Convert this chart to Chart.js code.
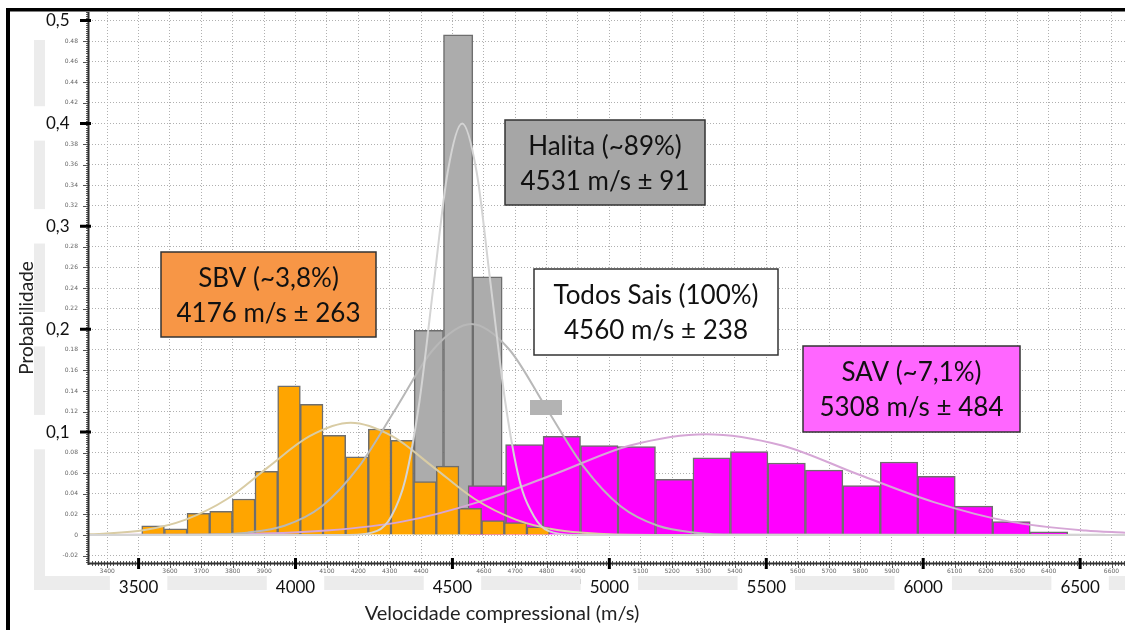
<!DOCTYPE html>
<html>
<head>
<meta charset="utf-8">
<script src="https://cdn.jsdelivr.net/npm/chart.js@4/dist/chart.umd.min.js"></script>
<style>
  html, body { margin: 0; padding: 0; background: #fff; }
  canvas { display: block; }
</style>
</head>
<body>
<canvas id="velChart" width="1125" height="630"></canvas>
<script>
// histogram bins (m/s) and probabilities
const sbvStart = 3510, sbvBin = 72.2;
const sbvProb = [0.009, 0.006, 0.021, 0.023, 0.035, 0.062, 0.145, 0.127, 0.097, 0.076, 0.103, 0.092, 0.052, 0.067, 0.026, 0.014, 0.012, 0.008];

const halStart = 4378, halBin = 93.5;
const halProb = [0.199, 0.486, 0.251];

const savStart = 4550, savBin = 119.4;
const savProb = [0.048, 0.088, 0.096, 0.087, 0.086, 0.054, 0.075, 0.081, 0.070, 0.063, 0.048, 0.071, 0.057, 0.028, 0.013, 0.003, 0.001];

// fitted normal curves, sampled from the figure
const halCurveX = [3342, 4170, 4260, 4305, 4350, 4395, 4440, 4485, 4531, 4577, 4622, 4668, 4713, 4760, 4805, 4895, 6643];
const halCurveY = [0, 0.0001, 0.004, 0.018, 0.054, 0.13, 0.243, 0.353, 0.40, 0.353, 0.243, 0.13, 0.054, 0.018, 0.004, 0.0001, 0];

const allCurveX = [3342, 3750, 3846, 3965, 4084, 4203, 4322, 4441, 4560, 4679, 4798, 4917, 5036, 5155, 5274, 5400, 6643];
const allCurveY = [0, 0.0007, 0.0023, 0.009, 0.028, 0.067, 0.124, 0.181, 0.205, 0.181, 0.124, 0.067, 0.028, 0.009, 0.0023, 0.0004, 0];

const sbvCurveX = [3342, 3387, 3519, 3650, 3782, 3913, 4045, 4176, 4308, 4439, 4571, 4702, 4834, 4965, 5150, 6643];
const sbvCurveY = [0.0007, 0.0012, 0.0048, 0.015, 0.035, 0.066, 0.096, 0.109, 0.096, 0.066, 0.035, 0.015, 0.0048, 0.0012, 0.0001, 0];

const savCurveX = [3342, 3856, 4098, 4340, 4582, 4824, 5066, 5308, 5550, 5792, 6034, 6276, 6518, 6643];
const savCurveY = [0, 0.0011, 0.0043, 0.013, 0.032, 0.059, 0.087, 0.098, 0.087, 0.059, 0.032, 0.013, 0.0043, 0.0022];

const xMin = 3342, xMax = 6643;
const yMin = -0.0272, yMax = 0.5083;
const xTickFirst = 3400, xTickLast = 6600, xTickStep = 100;

const boxes = [
  { x: 161, y: 252, w: 215, h: 85, fill: '#f79646', lines: ['SBV (~3,8%)', '4176 m/s ± 263'] },
  { x: 505, y: 120, w: 200, h: 85, fill: '#a6a6a6', lines: ['Halita (~89%)', '4531 m/s ± 91'] },
  { x: 534, y: 269, w: 244, h: 86, fill: '#ffffff', lines: ['Todos Sais (100%)', '4560 m/s ± 238'] },
  { x: 803, y: 346, w: 217, h: 86, fill: '#ff66ff', lines: ['SAV (~7,1%)', '5308 m/s ± 484'] }
];

const toBars = (start, width, vals) => vals.map((p, i) => ({ x: start + width * (i + 0.5), y: p }));
const toPts = (xs, ys) => xs.map((v, i) => ({ x: v, y: ys[i] }));

const bigX = c => !!c.tick && Math.round(c.tick.value) % 500 === 0;
const bigY = c => {
  if (!c.tick) return false;
  const r = Math.round(c.tick.value * 100);
  return r > 0 && r % 10 === 0;
};
const smallFont = { family: 'DejaVu Sans', size: 6, lineHeight: 1.2 };

const hiddenX = () => ({ type: 'linear', display: false, min: xMin, max: xMax, offset: false,
  grid: { offset: false }, ticks: { stepSize: 10000 } });

const decor = {
  id: 'decor',
  beforeDraw(chart) {
    const ctx = chart.ctx;
    ctx.save();
    ctx.fillStyle = '#fff';
    ctx.fillRect(0, 0, chart.width, chart.height);
    ctx.fillStyle = '#ececec';
    ctx.fillRect(34, 40, 11, 545);
    ctx.fillRect(34, 576, chart.width - 34, 14);
    ctx.restore();
  },
  afterDatasetsDraw(chart) {
    const ctx = chart.ctx;
    ctx.save();
    ctx.fillStyle = '#b3b3b3';
    ctx.fillRect(530, 400, 32, 15);
    ctx.restore();
  },
  afterDraw(chart) {
    const ctx = chart.ctx;
    const a = chart.chartArea;
    const xs = chart.scales.x, ys = chart.scales.y;
    ctx.save();

    // y ruler
    ctx.strokeStyle = '#555';
    ctx.lineWidth = 1;
    ctx.beginPath();
    for (let k = -13; k <= 254; k++) {
      const py = Math.round(ys.getPixelForValue(k / 500)) + 0.5;
      const len = k % 10 === 0 ? 6 : 3;
      ctx.moveTo(a.left - len, py);
      ctx.lineTo(a.left, py);
    }
    ctx.stroke();
    ctx.strokeStyle = '#333';
    ctx.lineWidth = 2;
    ctx.beginPath();
    ctx.moveTo(a.left - 0.5, a.top);
    ctx.lineTo(a.left - 0.5, a.bottom + 2);
    ctx.stroke();
    ctx.strokeStyle = '#000';
    ctx.lineWidth = 3;
    ctx.beginPath();
    for (let k = 1; k <= 5; k++) {
      const py = ys.getPixelForValue(k / 10);
      ctx.moveTo(a.left - 9, py);
      ctx.lineTo(a.left + 2, py);
    }
    ctx.stroke();

    // x ruler
    ctx.strokeStyle = '#555';
    ctx.lineWidth = 1;
    ctx.beginPath();
    for (let k = 335; k <= 664; k++) {
      const px = Math.round(xs.getPixelForValue(k * 10)) + 0.5;
      const len = k % 10 === 0 ? 5 : 3;
      ctx.moveTo(px, a.bottom - 2);
      ctx.lineTo(px, a.bottom + len);
    }
    ctx.stroke();
    ctx.strokeStyle = '#333';
    ctx.lineWidth = 2;
    ctx.beginPath();
    ctx.moveTo(a.left - 1, a.bottom + 0.5);
    ctx.lineTo(a.right, a.bottom + 0.5);
    ctx.stroke();
    ctx.strokeStyle = '#000';
    ctx.lineWidth = 3;
    ctx.beginPath();
    for (let v = 3500; v <= 6500; v += 500) {
      const px = xs.getPixelForValue(v);
      ctx.moveTo(px, a.bottom - 5);
      ctx.lineTo(px, a.bottom + 6);
    }
    ctx.stroke();

    // frame
    ctx.fillStyle = '#000';
    ctx.fillRect(6, 8, chart.width - 6, 3.5);
    ctx.fillRect(6, 8, 4, chart.height - 8);

    // axis titles
    ctx.fillStyle = '#222';
    ctx.font = '20px Lato';
    ctx.textAlign = 'center';
    ctx.textBaseline = 'alphabetic';
    ctx.fillText('Velocidade compressional (m/s)', 502, 620);
    ctx.save();
    ctx.translate(27, 318);
    ctx.rotate(-Math.PI / 2);
    ctx.font = '19px Lato';
    ctx.textBaseline = 'middle';
    ctx.fillText('Probabilidade', 0, 0);
    ctx.restore();

    // annotation boxes
    boxes.forEach(b => {
      ctx.fillStyle = b.fill;
      ctx.fillRect(b.x, b.y, b.w, b.h);
      ctx.strokeStyle = '#333';
      ctx.lineWidth = 1.5;
      ctx.strokeRect(b.x, b.y, b.w, b.h);
      ctx.fillStyle = '#111';
      ctx.font = '26px Lato';
      ctx.textAlign = 'center';
      ctx.textBaseline = 'alphabetic';
      ctx.fillText(b.lines[0], b.x + b.w / 2, b.y + 35);
      ctx.fillText(b.lines[1], b.x + b.w / 2, b.y + 70);
    });
    ctx.restore();
  }
};

new Chart(document.getElementById('velChart'), {
  type: 'bar',
  data: {
    datasets: [
      { type: 'line', label: 'Halita fit', data: toPts(halCurveX, halCurveY), borderColor: '#d4d4d4',
        borderWidth: 2, pointRadius: 0, cubicInterpolationMode: 'monotone', fill: false },
      { type: 'line', label: 'Todos fit', data: toPts(allCurveX, allCurveY), borderColor: '#b8b8b8',
        borderWidth: 2, pointRadius: 0, cubicInterpolationMode: 'monotone', fill: false },
      { type: 'line', label: 'SBV fit', data: toPts(sbvCurveX, sbvCurveY), borderColor: '#d9cca4',
        borderWidth: 2, pointRadius: 0, cubicInterpolationMode: 'monotone', fill: false },
      { type: 'line', label: 'SAV fit', data: toPts(savCurveX, savCurveY), borderColor: '#d6a6d6',
        borderWidth: 2, pointRadius: 0, cubicInterpolationMode: 'monotone', fill: false },
      { label: 'SBV', xAxisID: 'xSbv', data: toBars(sbvStart, sbvBin, sbvProb), backgroundColor: '#ffa500',
        borderColor: '#6e6e6e', borderWidth: 1.5, barPercentage: 1, categoryPercentage: 1, grouped: false },
      { label: 'SAV', xAxisID: 'xSav', data: toBars(savStart, savBin, savProb), backgroundColor: '#ff00ff',
        borderColor: '#6e6e6e', borderWidth: 1.5, barPercentage: 1, categoryPercentage: 1, grouped: false },
      { label: 'Halita', xAxisID: 'xHal', data: toBars(halStart, halBin, halProb), backgroundColor: '#acacac',
        borderColor: '#6e6e6e', borderWidth: 1.5, barPercentage: 1, categoryPercentage: 1, grouped: false }
    ]
  },
  options: {
    responsive: false,
    animation: false,
    devicePixelRatio: 1,
    layout: { autoPadding: false, padding: { top: 12, left: 0, right: 0, bottom: 0 } },
    plugins: { legend: { display: false }, tooltip: { enabled: false } },
    scales: {
      x: {
        type: 'linear', min: xMin, max: xMax, offset: false,
        afterBuildTicks: s => {
          const t = [];
          for (let v = xTickFirst; v <= xTickLast; v += xTickStep) t.push({ value: v });
          s.ticks = t;
        },
        afterFit: s => { s.height = 67; s.paddingLeft = 0; s.paddingRight = 0; },
        border: { display: false, dash: [1, 2] },
        grid: { color: '#b0b0b0', offset: false, drawTicks: false },
        ticks: {
          autoSkip: false, maxRotation: 0, minRotation: 0, padding: 5,
          callback: v => String(Math.round(v)),
          font: c => bigX(c) ? { family: 'Lato', size: 17, lineHeight: 2.3 } : smallFont,
          color: c => bigX(c) ? '#111' : '#666',
          showLabelBackdrop: c => bigX(c),
          backdropColor: '#fff',
          backdropPadding: { left: 9, right: 9, top: -8, bottom: -7 }
        },
        title: { display: true, text: 'P-Velocity [m/s]', color: '#666',
          font: { family: 'DejaVu Sans', size: 7 }, padding: { top: 0, bottom: 44 } }
      },
      xSbv: hiddenX(),
      xSav: hiddenX(),
      xHal: hiddenX(),
      y: {
        type: 'linear', min: yMin, max: yMax,
        afterFit: s => { s.width = 89; s.paddingTop = 0; s.paddingBottom = 0; },
        border: { display: false, dash: [1, 2] },
        grid: { color: '#b0b0b0', drawTicks: false },
        ticks: {
          stepSize: 0.02, includeBounds: false, autoSkip: false, padding: 11,
          callback: v => {
            const r = Math.round(v * 100);
            if (r > 0 && r % 10 === 0) return (r / 100).toFixed(1).replace('.', ',') + '\u2002';
            return r === 0 ? '0' : (r / 100).toFixed(2);
          },
          font: c => bigY(c) ? { family: 'Lato', size: 17, lineHeight: 1.2 } : smallFont,
          color: c => bigY(c) ? '#111' : '#666',
          showLabelBackdrop: c => bigY(c),
          backdropColor: '#fff',
          backdropPadding: { left: 13, right: 4, top: 7, bottom: 7 }
        }
      }
    }
  },
  plugins: [decor]
});
</script>
</body>
</html>
